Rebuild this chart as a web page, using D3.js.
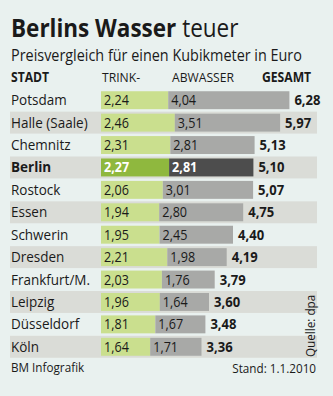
<!DOCTYPE html>
<html><head><meta charset="utf-8">
<script src="https://cdn.jsdelivr.net/npm/d3@7"></script>
<style>
html,body{margin:0;padding:0;background:#e9f1ef;}
svg{display:block;}
text{font-family:"Open Sans","Noto Sans",sans-serif;fill:#1a1a1a;}
</style></head><body>
<svg id="c" width="333" height="396"></svg>
<script>
const cities = ["Potsdam","Halle (Saale)","Chemnitz","Berlin","Rostock","Essen","Schwerin","Dresden","Frankfurt/M.","Leipzig","Düsseldorf","Köln"];
const trink = [2.24,2.46,2.31,2.27,2.06,1.94,1.95,2.21,2.03,1.96,1.81,1.64];
const abwasser = [4.04,3.51,2.81,2.81,3.01,2.80,2.45,1.98,1.76,1.64,1.67,1.71];
const gesamt = [6.28,5.97,5.13,5.10,5.07,4.75,4.40,4.19,3.79,3.60,3.48,3.36];
const headers = ["STADT","TRINK-","ABWASSER","GESAMT"];
const highlight = "Berlin";

const svg = d3.select("#c");
const fmt = v => d3.format(".2f")(v).replace(".", ",");
const squeeze = 0.9;

function txt(x, y, s, size, weight, anchor){
  const t = svg.append("text").attr("x", 0).attr("y", 0)
    .attr("font-size", size).attr("font-weight", weight || 400)
    .attr("text-anchor", anchor || "start").text(s);
  t.attr("transform", `translate(${x},${y}) scale(${squeeze},1)`);
  return t;
}

// title
const title = svg.append("text").attr("transform","translate(11,37) scale(0.9,1)").attr("font-size",25);
title.append("tspan").attr("font-weight",700).text("Berlins Wasser ");
title.append("tspan").attr("font-weight",400).text("teuer");
txt(11, 61, "Preisvergleich für einen Kubikmeter in Euro", 16, 400);

const hx = [11, 102, 172, 262];
headers.forEach((h,i)=> txt(hx[i], 82, h, 13.5, (i===0||i===3)?700:400));

const x = d3.scaleLinear().domain([0, 1]).range([0, 30]);
const x0 = 101;
const y = d3.scaleBand().domain(cities).range([89, 358]).paddingInner(0.2).paddingOuter(0.1);

const rows = cities.map((c,i)=>({c, t:trink[i], a:abwasser[i], g:gesamt[i], i}));

// alternate background bands
svg.selectAll("rect.band").data(rows.filter(d=>d.i%2===1)).join("rect")
  .attr("x", 10).attr("width", 307)
  .attr("y", d=>y(d.c)-2).attr("height", y.bandwidth()+4)
  .attr("fill", "#dadcd7");

rows.forEach(d=>{
  const hl = d.c===highlight;
  const yy = y(d.c), h = y.bandwidth();
  svg.append("rect").attr("x", x0).attr("y", yy).attr("width", x(d.t)).attr("height", h)
    .attr("fill", hl ? "#8fb83e" : "#cadf8e");
  svg.append("rect").attr("x", x0 + x(d.t)).attr("y", yy).attr("width", x(d.a)).attr("height", h)
    .attr("fill", hl ? "#4d4d4d" : "#a8a9a7");
  const cy = yy + h/2 + 5;
  txt(11, cy, d.c, 15, hl?700:400);
  txt(x0+3, cy, fmt(d.t), 14, hl?700:400).style("fill", hl?"#fff":"#1a1a1a");
  txt(x0+x(d.t)+3, cy, fmt(d.a), 14, hl?700:400).style("fill", hl?"#fff":"#1a1a1a");
  txt(x0+x(d.t)+x(d.a)+5, cy, fmt(d.g), 14.5, 700);
});

txt(11, 372, "BM Infografik", 13, 400);
txt(316, 373, "Stand: 1.1.2010", 13, 400, "end");
svg.append("text").attr("transform","translate(315,357) rotate(-90) scale(0.9,1)")
  .attr("font-size",13).text("Quelle: dpa");
</script></body></html>
